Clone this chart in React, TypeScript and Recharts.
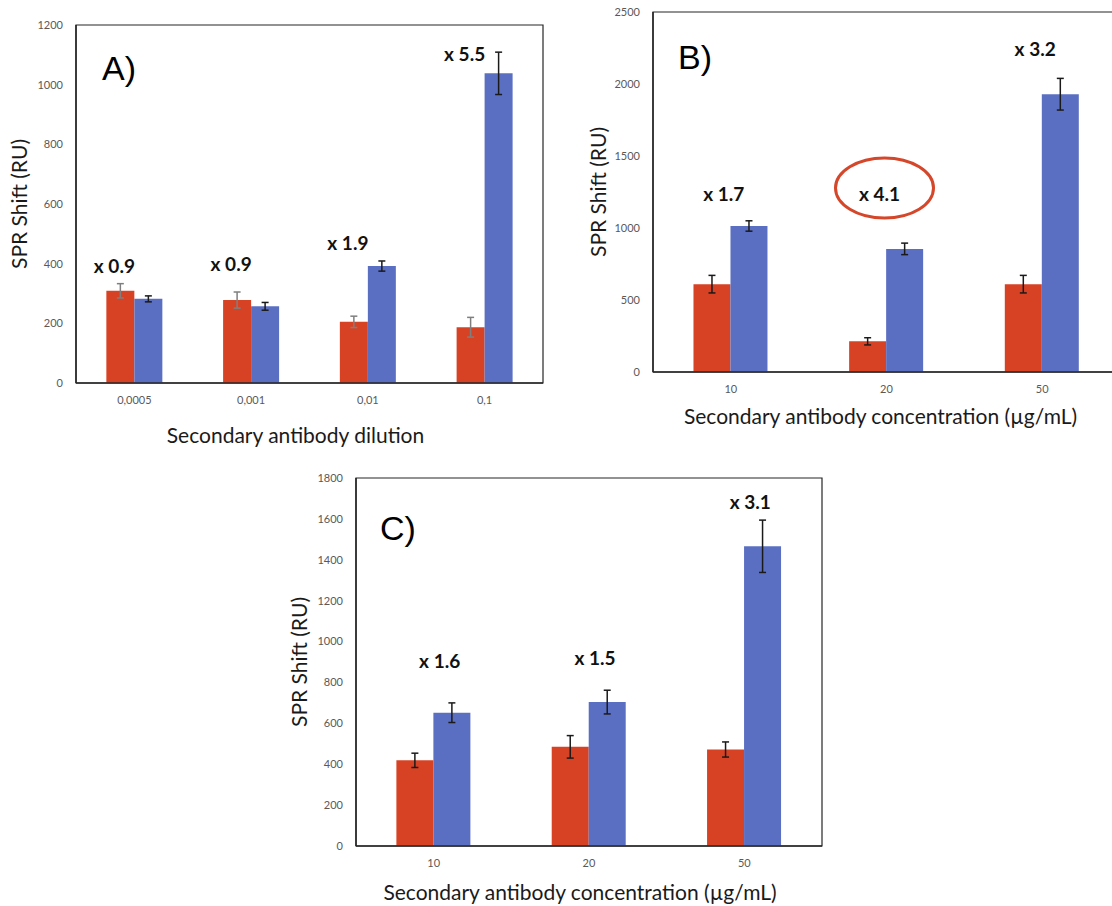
import { BarChart, Bar, XAxis, YAxis, ErrorBar, ReferenceDot, ReferenceArea } from "recharts";

// Panel A - secondary antibody dilution
const dilutionsA = ["0,0005", "0,001", "0,01", "0,1"];
const redA = [309, 278, 205, 187];
const redErrA = [24, 27, 19, 33];
const blueA = [282, 257, 392, 1038];
const blueErrA = [10, 13, 17, 71];
const foldA = ["x 0.9", "x 0.9", "x 1.9", "x 5.5"];
const foldAtA = [395, 402, 470, 1103];
const ticksA = [0, 200, 400, 600, 800, 1000, 1200];

// Panel B - secondary antibody concentration
const concB = ["10", "20", "50"];
const redB = [610, 213, 610];
const redErrB = [61, 25, 61];
const blueB = [1014, 855, 1929];
const blueErrB = [36, 40, 110];
const foldB = ["x 1.7", "x 4.1", "x 3.2"];
const foldAtB = [1243, 1243, 2250];
const ticksB = [0, 500, 1000, 1500, 2000, 2500];
const circledCatB = "20";
const circledAtB = 1278;

// Panel C - secondary antibody concentration
const concC = ["10", "20", "50"];
const redC = [419, 485, 472];
const redErrC = [35, 55, 37];
const blueC = [652, 704, 1466];
const blueErrC = [48, 58, 128];
const foldC = ["x 1.6", "x 1.5", "x 3.1"];
const foldAtC = [905, 921, 1684];
const ticksC = [0, 200, 400, 600, 800, 1000, 1200, 1400, 1600, 1800];

const RED = "#D84224";
const BLUE = "#5B6FC2";
const AXIS = "#262626";
const FONT = "Lato, 'Open Sans', sans-serif";

type PanelProps = {
  cats: string[];
  red: number[];
  redErr: number[];
  blue: number[];
  blueErr: number[];
  folds: string[];
  foldAt: number[];
  ticks: number[];
  xTitle: string;
  left: number;
  top: number;
  width: number;
  height: number;
  margin: { top: number; right: number; bottom: number; left: number };
  yAxisWidth: number;
  xAxisHeight: number;
  yTitleOffset: number;
  xTitleOffset: number;
  xTitleDx: number;
  foldDx: number;
  redErrColor: string;
  circled?: { cat: string; at: number };
};

const Panel = (p: PanelProps) => {
  const data = p.cats.map((c, i) => ({
    cat: c,
    red: p.red[i],
    redErr: p.redErr[i],
    blue: p.blue[i],
    blueErr: p.blueErr[i],
  }));
  const max = p.ticks[p.ticks.length - 1];

  return (
    <div style={{ position: "absolute", left: p.left, top: p.top }}>
      <BarChart
        width={p.width}
        height={p.height}
        data={data}
        margin={p.margin}
        barCategoryGap="26%"
        barGap={0}
        style={{ fontFamily: FONT }}
      >
        {/* plot frame */}
        <ReferenceArea
          x1={p.cats[0]}
          x2={p.cats[p.cats.length - 1]}
          y1={0}
          y2={max}
          fill="none"
          stroke={AXIS}
          strokeWidth={1.2}
          ifOverflow="visible"
        />
        <XAxis
          dataKey="cat"
          height={p.xAxisHeight}
          tickLine={false}
          tickSize={6}
          tickMargin={7}
          axisLine={{ stroke: AXIS, strokeWidth: 1.5 }}
          tick={{ fill: "#595959", fontSize: 11 }}
          label={{
            value: p.xTitle,
            position: "insideBottom",
            offset: p.xTitleOffset,
            dx: p.xTitleDx,
            fill: "#1a1a1a",
            fontSize: 21,
          }}
        />
        <YAxis
          type="number"
          domain={[0, max]}
          ticks={p.ticks}
          interval={0}
          width={p.yAxisWidth}
          tickLine={false}
          tickSize={6}
          tickMargin={7}
          axisLine={{ stroke: AXIS, strokeWidth: 1.5 }}
          tick={{ fill: "#595959", fontSize: 11 }}
          label={{
            value: "SPR Shift (RU)",
            angle: -90,
            position: "insideLeft",
            offset: p.yTitleOffset,
            fill: "#1a1a1a",
            fontSize: 21,
            style: { textAnchor: "middle" },
          }}
        />
        <Bar dataKey="red" fill={RED} isAnimationActive={false}>
          <ErrorBar dataKey="redErr" width={3.5} stroke={p.redErrColor} strokeWidth={1.5} />
        </Bar>
        <Bar dataKey="blue" fill={BLUE} isAnimationActive={false}>
          <ErrorBar dataKey="blueErr" width={3.5} stroke="#1a1a1a" strokeWidth={1.5} />
        </Bar>
        {p.cats.map((c, i) => (
          <ReferenceDot
            key={"fold" + i}
            x={c}
            y={p.foldAt[i]}
            r={0}
            shape={(s: any) => (
              <text
                x={s.cx + p.foldDx}
                y={s.cy}
                textAnchor="middle"
                dominantBaseline="central"
                fontFamily={FONT}
                fontWeight={700}
                fontSize={19}
                fill="#111"
              >
                {p.folds[i]}
              </text>
            )}
          />
        ))}
        {p.circled && (
          <ReferenceDot
            x={p.circled.cat}
            y={p.circled.at}
            r={0}
            shape={(s: any) => (
              <ellipse
                cx={s.cx - 2}
                cy={s.cy}
                rx={49}
                ry={30}
                fill="none"
                stroke="#D5472A"
                strokeWidth={3}
              />
            )}
          />
        )}
      </BarChart>
    </div>
  );
};

const Letter = ({ text, left, cy }: { text: string; left: number; cy: number }) => (
  <div
    style={{
      position: "absolute",
      left,
      top: cy - 17,
      fontFamily: "'Liberation Sans', Arial, sans-serif",
      fontSize: 34,
      lineHeight: "34px",
      color: "#000",
    }}
  >
    {text}
  </div>
);

export default function App() {
  return (
    <div
      style={{
        position: "absolute",
        left: 0,
        top: 0,
        width: 1112,
        height: 906,
        overflow: "hidden",
        background: "#fff",
      }}
    >
      <Panel
        cats={dilutionsA}
        red={redA}
        redErr={redErrA}
        blue={blueA}
        blueErr={blueErrA}
        folds={foldA}
        foldAt={foldAtA}
        ticks={ticksA}
        xTitle="Secondary antibody dilution"
        left={0}
        top={0}
        width={560}
        height={450}
        margin={{ top: 25, right: 17, bottom: 0, left: 0 }}
        yAxisWidth={76}
        xAxisHeight={67}
        yTitleOffset={20}
        xTitleOffset={7}
        xTitleDx={-14}
        foldDx={-20}
        redErrColor="#7f7f7f"
      />
      <Panel
        cats={concB}
        red={redB}
        redErr={redErrB}
        blue={blueB}
        blueErr={blueErrB}
        folds={foldB}
        foldAt={foldAtB}
        ticks={ticksB}
        xTitle="Secondary antibody concentration (µg/mL)"
        left={560}
        top={0}
        width={570}
        height={440}
        margin={{ top: 12, right: 10, bottom: 0, left: 0 }}
        yAxisWidth={93}
        xAxisHeight={68}
        yTitleOffset={39}
        xTitleOffset={16}
        xTitleDx={-6}
        foldDx={-7}
        redErrColor="#1a1a1a"
        circled={{ cat: circledCatB, at: circledAtB }}
      />
      <Panel
        cats={concC}
        red={redC}
        redErr={redErrC}
        blue={blueC}
        blueErr={blueErrC}
        folds={foldC}
        foldAt={foldAtC}
        ticks={ticksC}
        xTitle="Secondary antibody concentration (µg/mL)"
        left={280}
        top={460}
        width={560}
        height={446}
        margin={{ top: 18, right: 18, bottom: 0, left: 0 }}
        yAxisWidth={76}
        xAxisHeight={60}
        yTitleOffset={20}
        xTitleOffset={6}
        xTitleDx={-9}
        foldDx={6}
        redErrColor="#1a1a1a"
      />
      <Letter text="A)" left={102} cy={68} />
      <Letter text="B)" left={678} cy={57} />
      <Letter text="C)" left={380} cy={528} />
    </div>
  );
}
